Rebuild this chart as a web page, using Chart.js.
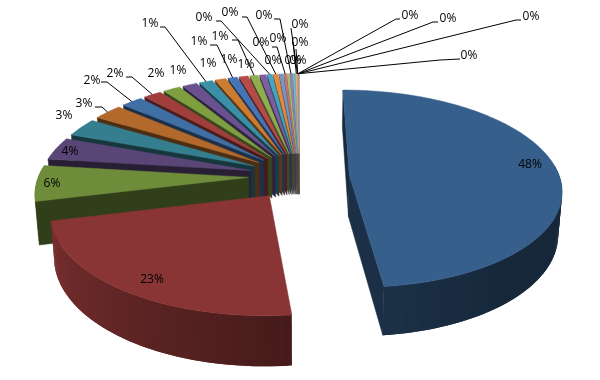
<!DOCTYPE html>
<html>
<head>
<meta charset="utf-8">
<style>
  html, body { margin: 0; padding: 0; background: #fff; }
  #box { width: 600px; height: 380px; }
</style>
<script src="https://cdn.jsdelivr.net/npm/chart.js@4"></script>
</head>
<body>
<div id="box"><canvas id="pie" width="600" height="380"></canvas></div>
<script>
// slice values (percent)
const mainValues = [48.26, 22.9, 5.8, 3.7, 3.0, 2.6];
const midValues = [1.9, 1.6, 1.55];
const smallValues = [1.3, 1.18, 0.99, 0.82, 0.8, 0.72, 0.57];
const tinyValues = [0.43, 0.43, 0.35, 0.21, 0.21, 0.21, 0.21, 0.14, 0.02, 0.02, 0.02, 0.02, 0.02, 0.02];
const values = [...mainValues, ...midValues, ...smallValues, ...tinyValues];

const colors = [
  "#365f8c", "#893535", "#6f8c3b", "#5a4676", "#347e90", "#b2692b",
  "#3f6fa5", "#a03e3c", "#7e9e40", "#6a5290", "#3a90a8", "#cc7c30",
  "#4675b5", "#b54a48", "#90ae50", "#7c5fa0", "#45a5c0", "#e58a3a",
  "#7595c8", "#c77370", "#a3be6e", "#9580b5", "#6db8ce", "#f0a868",
  "#8aa6d2", "#d28f8d", "#b5cb8e", "#a998c3", "#8cc7d8", "#f3bb8c"
];

// where the percent labels sit, and the bent leader lines going to them
const labelSpots = [
  [530,165],[152,280],[52,184],[70,152],[64,116],[84,104],
  [92,81],[115,74],[156,74],
  [178,71],[150,24],[208,64],[199,42],[229,60],[220,37],[246,65],
  [204,18],[230,13],[273,61],[261,43],[278,39],[264,16],[293,61],
  [300,43],[300,25],[298,61],[410,16],[448,19],[531,17],[469,56]
];
const leaders = {
  5: [[102,107],[95,107]],
  6: [[107,82],[101,82]],
  7: [[132,77],[126,77]],
  10: [[165,27],[160,27]],
  12: [[217,45],[210,45]],
  14: [[238,40],[232,40]],
  16: [[221,21],[216,21]],
  17: [[247,17],[242,17]],
  19: [[277,47],[272,47]],
  21: [[280,19],[274,19]],
  23: [[293,42]],
  24: [[291,28]],
  25: [[296,49]],
  26: [[396,19],[400,19]],
  27: [[433,22],[438,22]],
  28: [[516,20],[521,20]],
  29: [[440,60],[460,59]]
};

// 3d look of the pie
const cx = 299, cy = 176;
const radX = 210, radY = 97;
const persp = 0.1415;
const explode = 0.24;
const depth = 42;
const converge = 0.985;

function project(x, y) {
  const w = 1 + persp * y;
  return { x: cx + x * radX / w, y: cy - y * radY / w, w: w };
}

function shade(hex, f) {
  const n = parseInt(hex.slice(1), 16);
  const r = Math.round((n >> 16 & 255) * f);
  const g = Math.round((n >> 8 & 255) * f);
  const b = Math.round((n & 255) * f);
  return `rgb(${r},${g},${b})`;
}

function wallFactor(deg) {
  if (deg <= 140) return 0.42;
  if (deg <= 172) return 0.42 + (deg - 140) / 32 * 0.08;
  if (deg <= 255) return 0.5 + (deg - 172) / 83 * 0.38;
  return 0.88;
}

function fillPoly(ctx, pts, color, edge) {
  ctx.beginPath();
  pts.forEach((p, i) => i ? ctx.lineTo(p.x, p.y) : ctx.moveTo(p.x, p.y));
  ctx.closePath();
  ctx.fillStyle = color;
  ctx.fill();
  if (edge) {
    ctx.strokeStyle = color;
    ctx.lineWidth = 0.5;
    ctx.stroke();
  }
}

function drop(p) {
  return { x: cx + (p.x - cx) * converge, y: p.y + depth / p.w };
}

// turns a chart.js arc into points on the tilted plane
function sliceShape(arc) {
  const start = arc.startAngle + Math.PI / 2;
  const end = arc.endAngle + Math.PI / 2;
  const mid = (start + end) / 2;
  const ox = explode * Math.sin(mid), oy = explode * Math.cos(mid);
  const steps = Math.max(2, Math.ceil((end - start) / (Math.PI / 180)));
  const rim = [];
  for (let i = 0; i <= steps; i++) {
    const a = start + (end - start) * i / steps;
    rim.push({ a: a, p: project(ox + Math.sin(a), oy + Math.cos(a)) });
  }
  return { apex: project(ox, oy), rim: rim, oy: oy, top: project(ox + Math.sin(mid), oy + Math.cos(mid)) };
}

const pie3d = {
  id: "pie3d",
  beforeDatasetDraw() {
    return false; // flat arcs are replaced by the tilted ones below
  },
  afterDatasetsDraw(chart) {
    const ctx = chart.ctx;
    const arcs = chart.getDatasetMeta(0).data;
    const shapes = arcs.map((arc, i) => ({ i: i, s: sliceShape(arc) }));
    const total = values.reduce((a, b) => a + b, 0);

    ctx.save();
    shapes.slice().sort((a, b) => b.s.oy - a.s.oy).forEach(({ i, s }) => {
      const col = colors[i];
      const n = s.rim.length;
      const first = s.rim[0].p, last = s.rim[n - 1].p;
      // rim wall, each strip runs over the next one so no seams show
      for (let k = 0; k < n - 1; k++) {
        const a = s.rim[k], b = s.rim[Math.min(k + 2, n - 1)], c = s.rim[k + 1];
        if (Math.cos((a.a + c.a) / 2) > 0.1) continue;
        const deg = (a.a + c.a) / 2 * 180 / Math.PI;
        fillPoly(ctx, [a.p, b.p, drop(b.p), drop(a.p)], shade(col, wallFactor(deg)));
      }
      // cut faces, only the ones turned to the viewer
      if (first.x < s.apex.x) fillPoly(ctx, [s.apex, first, drop(first), drop(s.apex)], shade(col, 0.44), true);
      if (last.x > s.apex.x) fillPoly(ctx, [s.apex, last, drop(last), drop(s.apex)], shade(col, 0.5), true);
      fillPoly(ctx, [s.apex, ...s.rim.map(r => r.p)], col, true);
    });

    // leader lines
    ctx.strokeStyle = "#000";
    ctx.lineWidth = 1;
    Object.keys(leaders).forEach(k => {
      const from = shapes[k].s.top;
      ctx.beginPath();
      ctx.moveTo(from.x, from.y);
      leaders[k].forEach(p => ctx.lineTo(p[0], p[1]));
      ctx.stroke();
    });

    // percent labels
    ctx.font = "12px 'Open Sans'";
    ctx.fillStyle = "#000";
    ctx.textAlign = "center";
    ctx.textBaseline = "middle";
    values.forEach((v, i) => {
      ctx.fillText(Math.round(v / total * 100) + "%", labelSpots[i][0], labelSpots[i][1]);
    });
    ctx.restore();
  }
};

new Chart(document.getElementById("pie"), {
  type: "pie",
  data: {
    labels: values.map((v, i) => "Item " + (i + 1)),
    datasets: [{ data: values, backgroundColor: colors, borderWidth: 0 }]
  },
  options: {
    responsive: false,
    animation: false,
    plugins: { legend: { display: false }, tooltip: { enabled: false } }
  },
  plugins: [pie3d]
});
</script>
</body>
</html>
